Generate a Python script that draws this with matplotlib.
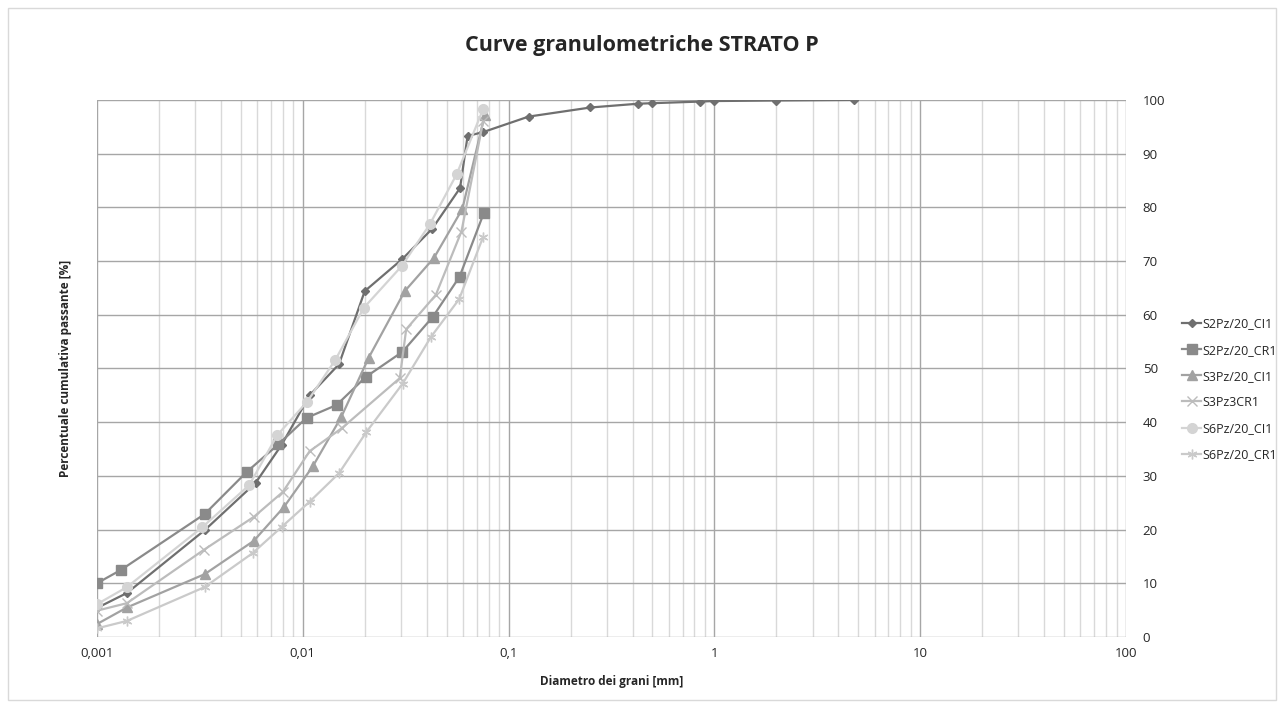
import matplotlib.pyplot as plt
from matplotlib.ticker import FixedLocator, LogLocator, NullFormatter, FuncFormatter
from matplotlib.patches import Rectangle

plt.rcParams['font.family'] = ['Open Sans', 'DejaVu Sans']

# diametri [mm] e passante [%] per ciascun campione
s2_ci1_d = [0.001, 0.0014, 0.00334, 0.0059, 0.0079, 0.0108, 0.0150, 0.0200, 0.0305, 0.0425,
            0.0581, 0.0632, 0.075, 0.125, 0.25, 0.425, 0.5, 0.85, 1.0, 2.0, 4.75]
s2_ci1_p = [5.4, 8.2, 19.9, 28.7, 35.8, 45.0, 50.8, 64.4, 70.4, 76.0,
            83.6, 93.3, 94.0, 96.9, 98.6, 99.3, 99.4, 99.7, 99.8, 99.9, 100.0]

s2_cr1_d = [0.001, 0.00131, 0.00334, 0.00533, 0.00762, 0.01043, 0.0146, 0.0202, 0.0305, 0.0428, 0.0578, 0.0757]
s2_cr1_p = [10.0, 12.5, 22.9, 30.7, 35.9, 40.8, 43.2, 48.4, 53.1, 59.6, 67.1, 78.9]

s3_ci1_d = [0.001, 0.0014, 0.00334, 0.00578, 0.0081, 0.0112, 0.0154, 0.0209, 0.0313, 0.0434, 0.0596, 0.0766]
s3_ci1_p = [2.4, 5.5, 11.7, 17.9, 24.2, 31.8, 41.0, 52.0, 64.4, 70.6, 79.7, 97.2]

s3_cr1_d = [0.001, 0.0014, 0.0033, 0.0058, 0.0080, 0.0108, 0.0155, 0.0296, 0.0318, 0.0443, 0.059, 0.0752]
s3_cr1_p = [4.9, 6.3, 16.2, 22.4, 27.0, 34.6, 38.9, 48.2, 57.3, 63.7, 75.5, 96.0]

s6_ci1_d = [0.001, 0.0014, 0.00324, 0.0055, 0.00752, 0.0105, 0.0144, 0.0198, 0.0303, 0.0415, 0.056, 0.0752]
s6_ci1_p = [6.1, 9.3, 20.4, 28.3, 37.6, 43.8, 51.6, 61.3, 69.1, 76.9, 86.2, 98.3]

s6_cr1_d = [0.001, 0.0014, 0.00334, 0.0057, 0.0079, 0.0108, 0.015, 0.0204, 0.0306, 0.042, 0.0575, 0.0752]
s6_cr1_p = [1.6, 3.0, 9.3, 15.6, 20.5, 25.2, 30.5, 38.2, 47.2, 55.9, 62.9, 74.5]

labels = ["S2Pz/20_CI1", "S2Pz/20_CR1", "S3Pz/20_CI1", "S3Pz3CR1", "S6Pz/20_CI1", "S6Pz/20_CR1"]

fig = plt.figure(figsize=(12.84, 7.04), dpi=100)
fig.patches.append(Rectangle((0.006, 0.006), 0.988, 0.982, transform=fig.transFigure,
                             fill=False, edgecolor="#d9d9d9", linewidth=1))
ax = fig.add_axes([0.0755, 0.0952, 0.8015, 0.7628])

ax.plot(s2_ci1_d, s2_ci1_p, color="#6f6f6f", lw=1.6, marker="D", ms=4.5, label=labels[0])
ax.plot(s2_cr1_d, s2_cr1_p, color="#8a8a8a", lw=1.6, marker="s", ms=6.5, label=labels[1])
ax.plot(s3_ci1_d, s3_ci1_p, color="#a2a2a2", lw=1.6, marker="^", ms=6.5, label=labels[2])
ax.plot(s3_cr1_d, s3_cr1_p, color="#bcbcbc", lw=1.6, marker="x", ms=7, mew=1.0, label=labels[3])
ax.plot(s6_ci1_d, s6_ci1_p, color="#d4d4d4", lw=1.6, marker="o", ms=7, label=labels[4])
ax.plot(s6_cr1_d, s6_cr1_p, color="#cacaca", lw=1.6, marker=(6, 2, 0), ms=7, mew=1.0, label=labels[5])

ax.set_xscale("log")
ax.set_xlim(0.001, 100)
ax.set_ylim(0, 100)
ax.yaxis.set_major_locator(FixedLocator(range(0, 101, 10)))
ax.xaxis.set_major_locator(LogLocator(base=10))
ax.xaxis.set_minor_locator(LogLocator(base=10, subs=range(2, 10)))
ax.xaxis.set_minor_formatter(NullFormatter())
ax.xaxis.set_major_formatter(FuncFormatter(lambda v, p: f"{v:g}".replace(".", ",")))

ax.grid(True, which="major", axis="both", color="#a6a6a6", lw=1.0)
ax.grid(True, which="minor", axis="x", color="#d9d9d9", lw=1.0)
ax.set_axisbelow(True)
for s in ax.spines.values():
    s.set_visible(False)

ax.yaxis.tick_right()
ax.tick_params(which="both", length=0, labelsize=9.5, colors="#262626")
ax.tick_params(axis="y", pad=12)
ax.tick_params(axis="x", pad=7)

ax.set_xlabel("Diametro dei grani [mm]", fontsize=8.5, fontweight="bold", color="#262626", labelpad=11)
ax.yaxis.set_label_position("left")
ax.set_ylabel("Percentuale cumulativa passante [%]", fontsize=8.5, fontweight="bold",
              color="#262626", labelpad=18)

fig.suptitle("Curve granulometriche STRATO P", x=0.5, y=0.95, fontsize=15.5, fontweight="bold",
             color="#262626")

fig.legend(loc="upper left", bbox_to_anchor=(0.912, 0.565), frameon=False, fontsize=9,
           handlelength=1.5, handletextpad=0.1, labelspacing=1.05, labelcolor="#262626")

fig.savefig("out.png", dpi=100)
